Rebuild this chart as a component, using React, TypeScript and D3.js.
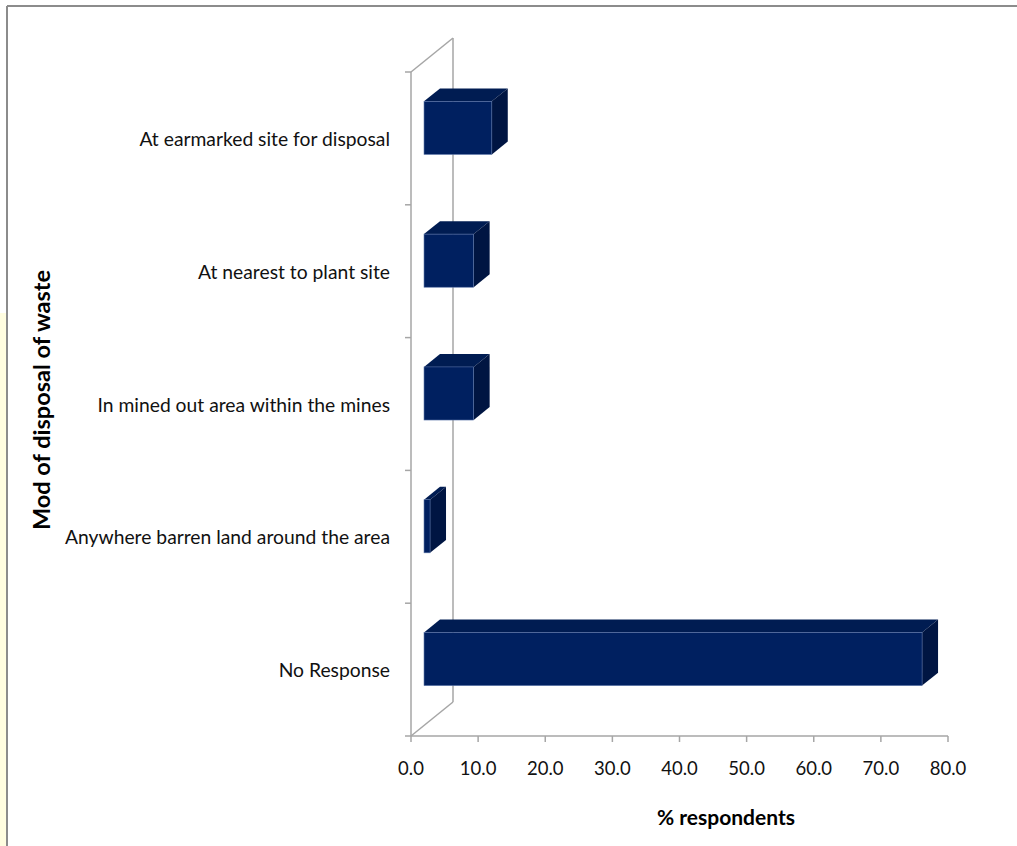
import React from 'react';
import * as d3 from 'd3';

const categories = [
  'At earmarked site for disposal',
  'At nearest to plant site',
  'In mined out area within the mines',
  'Anywhere barren land around the area',
  'No Response',
];
const values = [10.1, 7.4, 7.4, 0.9, 74.2];
const xTicks = [0, 10, 20, 30, 40, 50, 60, 70, 80];

const W = 1017;
const H = 846;
const FONT = 'Lato, "Open Sans", sans-serif';

// 3d wall depth
const DX = 42;
const DY = -34;
const F0 = 0.31;
const F1 = 0.69;

const App = () => {
  const x = d3.scaleLinear().domain([0, 80]).range([411, 948]);
  const y = d3.scaleBand<string>().domain(categories).range([72, 736]);
  const barH = y.bandwidth() * 0.4;
  const grid = '#a6a6a6';

  const fx = DX * F0, fy = DY * F0;
  const bx = DX * F1, by = DY * F1;

  return (
    <svg width={W} height={H} style={{ position: 'absolute', left: 0, top: 0 }}>
      <rect x={0} y={0} width={W} height={H} fill="#fff" />
      <rect x={0} y={313} width={6} height={H - 313} fill="#fffde0" />
      <line x1={7} y1={6} x2={W} y2={6} stroke="#8c8c8c" strokeWidth={2} />
      <line x1={7} y1={6} x2={7} y2={H} stroke="#8c8c8c" strokeWidth={2} />

      {/* walls */}
      <g stroke={grid} strokeWidth={1.5} fill="none">
        <line x1={x(0) + DX} y1={72 + DY} x2={x(0) + DX} y2={736 + DY} />
        <line x1={x(0)} y1={72} x2={x(0) + DX} y2={72 + DY} />
        <line x1={x(0)} y1={736} x2={x(0) + DX} y2={736 + DY} />
        <line x1={x(0)} y1={72} x2={x(0)} y2={736} />
        <line x1={x(0)} y1={736} x2={x(80)} y2={736} />
        {y.domain().concat(['end']).map((c, i) => {
          const yy = 72 + i * y.bandwidth();
          return <line key={i} x1={x(0) - 6} y1={yy} x2={x(0)} y2={yy} />;
        })}
        {xTicks.map(t => (
          <line key={t} x1={x(t)} y1={736} x2={x(t)} y2={742} />
        ))}
      </g>

      {/* bars */}
      {categories.map((c, i) => {
        const cy = (y(c) as number) + y.bandwidth() / 2;
        const x0 = x(0) + fx;
        const x1 = x(values[i]) + fx;
        const y0 = cy + fy - barH / 2;
        const y1 = cy + fy + barH / 2;
        const ddx = bx - fx, ddy = by - fy;
        return (
          <g key={c}>
            <path
              d={`M${x0},${y0}L${x0 + ddx},${y0 + ddy}L${x1 + ddx},${y0 + ddy}L${x1},${y0}Z`}
              fill="#001c52"
            />
            <path
              d={`M${x1},${y0}L${x1 + ddx},${y0 + ddy}L${x1 + ddx},${y1 + ddy}L${x1},${y1}Z`}
              fill="#001542"
            />
            <rect x={x0} y={y0} width={x1 - x0} height={y1 - y0} fill="#002060" stroke="#5a74a8" strokeWidth={0.6} />
          </g>
        );
      })}

      {/* category labels */}
      {categories.map(c => (
        <text
          key={c}
          x={390}
          y={(y(c) as number) + y.bandwidth() / 2}
          textAnchor="end"
          dominantBaseline="central"
          fontFamily={FONT}
          fontSize={19.3}
          fill="#111"
        >
          {c}
        </text>
      ))}

      {xTicks.map(t => (
        <text key={t} x={x(t)} y={775} textAnchor="middle" fontFamily={FONT} fontSize={18.5} fill="#111">
          {t.toFixed(1)}
        </text>
      ))}

      <text x={726} y={825} textAnchor="middle" fontFamily={FONT} fontSize={21} fontWeight="bold" fill="#000">
        % respondents
      </text>
      <text
        transform="translate(50,400) rotate(-90)"
        textAnchor="middle"
        fontFamily={FONT}
        fontSize={23.5}
        fontWeight="bold"
        fill="#000"
      >
        Mod of disposal of waste
      </text>
    </svg>
  );
};

export default App;
